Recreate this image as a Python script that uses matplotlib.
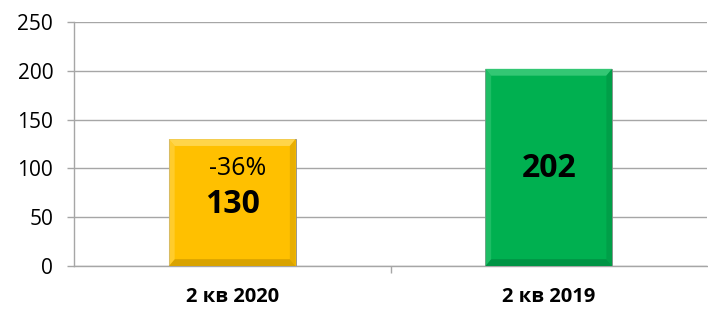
import matplotlib.pyplot as plt
from matplotlib.patches import Polygon

categories = ["2 кв 2020", "2 кв 2019"]
values = [130, 202]
colors = ["#FFC000", "#00B050"]
light = ["#FFD54A", "#33C774"]
dark = ["#D9A300", "#009444"]
change_label = "-36%"

plt.rcParams["font.family"] = ["Open Sans", "DejaVu Sans"]

fig = plt.figure(figsize=(7.08, 3.11), dpi=100)
ax = fig.add_axes([74 / 708, 45 / 311, 633 / 708, 244 / 311])
ax.set_xlim(-0.5, 1.5)
ax.set_ylim(0, 250)

grid_c = "#A6A6A6"
ax.set_yticks(range(0, 251, 50))
ax.yaxis.grid(True, color=grid_c, linewidth=1)
ax.set_axisbelow(True)
for s in ["top", "right"]:
    ax.spines[s].set_visible(False)
for s in ["left", "bottom"]:
    ax.spines[s].set_color(grid_c)
    ax.spines[s].set_linewidth(1)
ax.tick_params(axis="y", colors=grid_c, length=5, width=1, labelcolor="black",
               labelsize=15, pad=10)
ax.set_xticks([0, 1])
ax.set_xticklabels(categories, fontsize=14.5, fontweight="bold")
ax.set_xticks([0.5], minor=True)
ax.tick_params(axis="x", which="major", length=0, pad=15)
ax.tick_params(axis="x", which="minor", length=5, width=1, colors=grid_c)

bars = ax.bar(range(len(values)), values, width=0.4, color=colors,
              edgecolor="#8C8C8C", linewidth=0.6, zorder=3)

# simple bevel on each bar
for b, lc, dc in zip(bars, light, dark):
    x0, y0 = b.get_x(), b.get_y()
    w, h = b.get_width(), b.get_height()
    bx = 0.018
    by = 7
    x1, y1 = x0 + w, y0 + h
    ax.add_patch(Polygon([(x0, y1), (x1, y1), (x1 - bx, y1 - by), (x0 + bx, y1 - by)],
                         closed=True, facecolor=lc, edgecolor="none", zorder=4))
    ax.add_patch(Polygon([(x0, y0), (x1, y0), (x1 - bx, y0 + by), (x0 + bx, y0 + by)],
                         closed=True, facecolor=dc, edgecolor="none", zorder=4))
    ax.add_patch(Polygon([(x0, y0), (x0, y1), (x0 + bx, y1 - by), (x0 + bx, y0 + by)],
                         closed=True, facecolor=lc, edgecolor="none", alpha=0.6, zorder=4))
    ax.add_patch(Polygon([(x1, y0), (x1, y1), (x1 - bx, y1 - by), (x1 - bx, y0 + by)],
                         closed=True, facecolor=dc, edgecolor="none", alpha=0.6, zorder=4))

ax.text(0.016, 100, change_label, ha="center", va="center",
        fontsize=18, zorder=5)
ax.text(0, 63, str(values[0]), ha="center", va="center",
        fontsize=23, fontweight="bold", zorder=5)
ax.text(1, 100, str(values[1]), ha="center", va="center",
        fontsize=23, fontweight="bold", zorder=5)

plt.savefig("out.png", dpi=100)
